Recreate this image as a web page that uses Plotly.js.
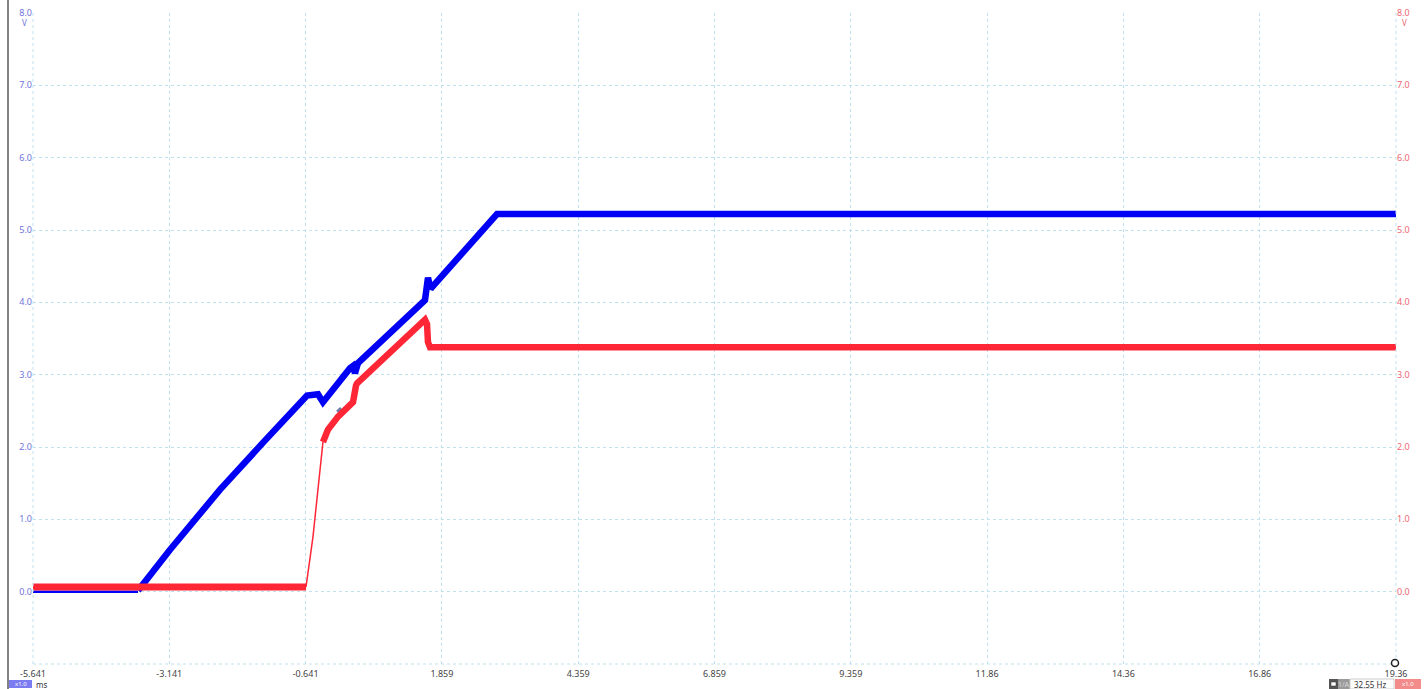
<!DOCTYPE html>
<html>
<head>
<meta charset="utf-8">
<script src="https://cdn.plot.ly/plotly-3.0.1.min.js"></script>
<style>
html,body{margin:0;padding:0;background:#fff;}
#chart{width:1424px;height:689px;}
</style>
</head>
<body>
<div id="chart"></div>
<script>
// ---- data (time in ms, voltage in V) ----
const xTickVals = [-5.641, -3.141, -0.641, 1.859, 4.359, 6.859, 9.359, 11.86, 14.36, 16.86, 19.36];
const xTickText = ['-5.641', '-3.141', '-0.641', '1.859', '4.359', '6.859', '9.359', '11.86', '14.36', '16.86', '19.36'];
const yTickVals = [0, 1, 2, 3, 4, 5, 6, 7, 8];
const yTickText = ['0.0', '1.0', '2.0', '3.0', '4.0', '5.0', '6.0', '7.0', '8.0'];

// blue channel (left axis)
const blueBaseT = [-5.641, -3.715];
const blueBaseV = [0.0, 0.0];
const blueT = [-3.715, -3.678, -3.128, -2.211, -1.422, -0.615, -0.413, -0.322, 0.174, 0.229, 0.265, 0.320, 1.549, 1.586, 1.604, 1.641, 1.678, 2.870, 19.36];
const blueV = [0.02, 0.05, 0.58, 1.41, 2.06, 2.71, 2.73, 2.62, 3.09, 3.12, 3.02, 3.16, 4.03, 4.30, 4.34, 4.22, 4.21, 5.22, 5.22];

// red channel (right axis)
const redBaseT = [-5.641, -0.633];
const redBaseV = [0.065, 0.065];
const redRiseT = [-0.633, -0.505, -0.395, -0.322];
const redRiseV = [0.065, 0.76, 1.55, 2.07];
const redT = [-0.322, -0.230, -0.046, 0.174, 0.229, 0.284, 0.302, 1.549, 1.586, 1.604, 1.641, 19.36];
const redV = [2.07, 2.24, 2.42, 2.56, 2.62, 2.85, 2.88, 3.76, 3.70, 3.45, 3.38, 3.38];

// cursor marker
const cursorT = [-0.010];
const cursorV = [2.50];

const BLUE = '#0000f5';
const RED = '#ff2636';
const GRID = '#bfe2ee';
const FONT = 'Noto Sans, DejaVu Sans, sans-serif';

const traces = [
  {x: blueBaseT, y: blueBaseV, mode: 'lines', line: {color: BLUE, width: 2.5}, hoverinfo: 'skip', yaxis: 'y'},
  {x: redBaseT, y: redBaseV, mode: 'lines', line: {color: RED, width: 7}, hoverinfo: 'skip', yaxis: 'y2'},
  {x: redRiseT, y: redRiseV, mode: 'lines', line: {color: RED, width: 1.5}, hoverinfo: 'skip', yaxis: 'y2'},
  {x: redT, y: redV, mode: 'lines', line: {color: RED, width: 6.5}, hoverinfo: 'skip', yaxis: 'y2'},
  {x: blueT, y: blueV, mode: 'lines', line: {color: BLUE, width: 6.5}, hoverinfo: 'skip', yaxis: 'y'},
  {x: cursorT, y: cursorV, mode: 'markers', marker: {symbol: 'diamond', size: 6, color: '#6f7fa8'}, hoverinfo: 'skip', yaxis: 'y'}
];

// pixel helpers for decorations (plot area: x 33..1396, y 13..664)
const px = v => (v - 33) / 1363;
const py = v => (664 - v) / 651;

const layout = {
  width: 1424, height: 689,
  margin: {l: 33, r: 28, t: 13, b: 25, pad: 0},
  paper_bgcolor: '#ffffff', plot_bgcolor: '#ffffff',
  showlegend: false,
  font: {family: FONT, size: 9, color: '#444'},
  xaxis: {
    range: [-5.641, 19.36], tickmode: 'array', tickvals: xTickVals, ticktext: xTickText,
    showgrid: true, gridcolor: GRID, griddash: 'dot', gridwidth: 1,
    zeroline: false, showline: false, ticks: '', ticklabelstandoff: 3,
    tickfont: {family: FONT, size: 9, color: '#444'}, fixedrange: true
  },
  yaxis: {
    range: [-1, 8], tickmode: 'array', tickvals: yTickVals, ticktext: yTickText,
    showgrid: true, gridcolor: GRID, griddash: 'dot', gridwidth: 1,
    zeroline: false, showline: false, ticks: '',
    tickfont: {family: FONT, size: 9, color: '#7272dc'}, fixedrange: true
  },
  yaxis2: {
    range: [-1, 8], tickmode: 'array', tickvals: yTickVals, ticktext: yTickText,
    overlaying: 'y', side: 'right', showgrid: false,
    zeroline: false, showline: false, ticks: '',
    tickfont: {family: FONT, size: 9, color: '#f06674'}, fixedrange: true
  },
  shapes: [
    // plot border (dotted)
    {type: 'line', xref: 'paper', yref: 'paper', x0: 0, x1: 1, y0: 0, y1: 0, line: {color: GRID, width: 1, dash: 'dot'}},
    {type: 'line', xref: 'paper', yref: 'paper', x0: 1, x1: 1, y0: 0, y1: 1, line: {color: GRID, width: 1, dash: 'dot'}},
    {type: 'line', xref: 'paper', yref: 'paper', x0: 0, x1: 0, y0: 0, y1: 1, line: {color: GRID, width: 1, dash: 'dot'}},
    // left solid gray bar
    {type: 'line', xref: 'paper', yref: 'paper', x0: px(8), x1: px(8), y0: py(689), y1: py(0), line: {color: '#5a5a5a', width: 1.5}},
    // bottom-left blue scale box
    {type: 'rect', xref: 'paper', yref: 'paper', x0: px(9), x1: px(32), y0: py(688), y1: py(680), fillcolor: '#7b7bf2', line: {width: 0}},
    // bottom-right controls
    {type: 'rect', xref: 'paper', yref: 'paper', x0: px(1329), x1: px(1338), y0: py(689), y1: py(679), fillcolor: '#555555', line: {width: 0}},
    {type: 'rect', xref: 'paper', yref: 'paper', x0: px(1331), x1: px(1336), y0: py(686), y1: py(682), fillcolor: '#ffffff', line: {color: '#333', width: 0.5}},
    {type: 'rect', xref: 'paper', yref: 'paper', x0: px(1338), x1: px(1350), y0: py(689), y1: py(679), fillcolor: '#9a9a9a', line: {width: 0}},
    {type: 'rect', xref: 'paper', yref: 'paper', x0: px(1350), x1: px(1394), y0: py(689), y1: py(679), fillcolor: '#ffffff', line: {color: '#cccccc', width: 1}},
    {type: 'rect', xref: 'paper', yref: 'paper', x0: px(1395), x1: px(1421), y0: py(689), y1: py(679), fillcolor: '#f48b8b', line: {width: 0}},
    // small circle at end of time axis
    {type: 'circle', xref: 'paper', yref: 'paper', xsizemode: 'pixel', ysizemode: 'pixel',
     xanchor: px(1395), yanchor: py(663), x0: -3.5, x1: 3.5, y0: -3.5, y1: 3.5,
     fillcolor: '#ffffff', line: {color: '#222', width: 1.5}}
  ],
  annotations: [
    {text: 'V', xref: 'paper', yref: 'paper', x: px(29), y: py(22), xanchor: 'right', yanchor: 'middle', showarrow: false, font: {family: FONT, size: 8, color: '#7272dc'}},
    {text: 'V', xref: 'paper', yref: 'paper', x: px(1400), y: py(22), xanchor: 'left', yanchor: 'middle', showarrow: false, font: {family: FONT, size: 8, color: '#f06674'}},
    {text: 'x1.0', xref: 'paper', yref: 'paper', x: px(20.5), y: py(684), xanchor: 'center', yanchor: 'middle', showarrow: false, font: {family: FONT, size: 6, color: '#ffffff'}},
    {text: 'ms', xref: 'paper', yref: 'paper', x: px(34), y: py(684), xanchor: 'left', yanchor: 'middle', showarrow: false, font: {family: FONT, size: 8, color: '#333'}},
    {text: '1/A', xref: 'paper', yref: 'paper', x: px(1344), y: py(684), xanchor: 'center', yanchor: 'middle', showarrow: false, font: {family: FONT, size: 7, color: '#d8d8d8'}},
    {text: '32.55 Hz', xref: 'paper', yref: 'paper', x: px(1352), y: py(684), xanchor: 'left', yanchor: 'middle', showarrow: false, font: {family: FONT, size: 8, color: '#333'}},
    {text: 'x1.0', xref: 'paper', yref: 'paper', x: px(1408), y: py(684), xanchor: 'center', yanchor: 'middle', showarrow: false, font: {family: FONT, size: 6, color: '#ffffff'}}
  ]
};

Plotly.newPlot('chart', traces, layout, {displayModeBar: false, staticPlot: true});
</script>
</body>
</html>
